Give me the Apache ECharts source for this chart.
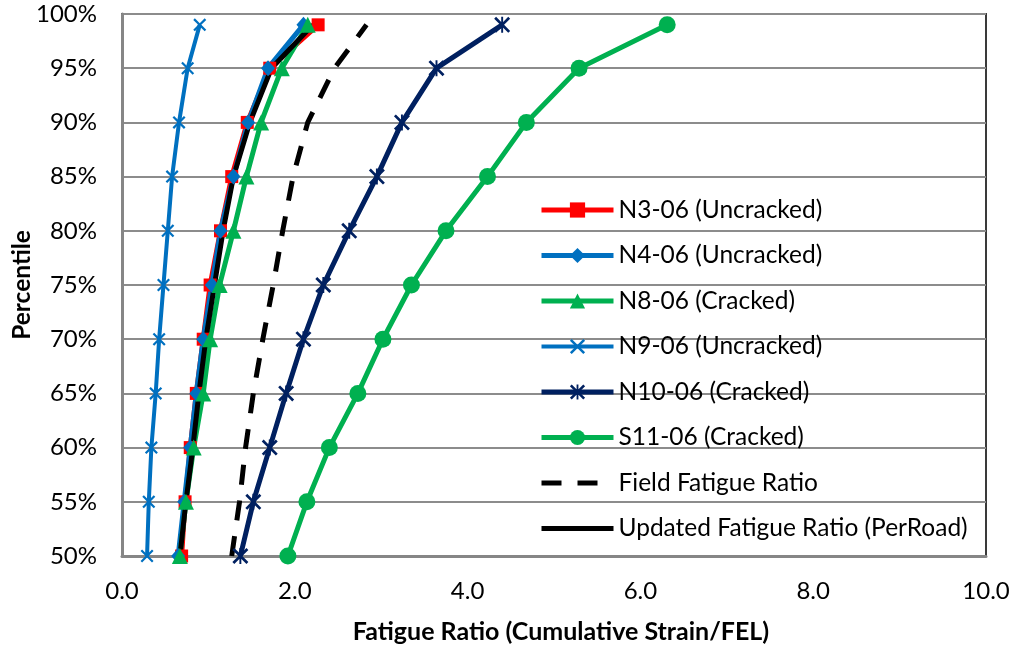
<!DOCTYPE html>
<html>
<head>
<meta charset="utf-8">
<style>
  html, body { margin: 0; padding: 0; background: #fff; }
  #chart { width: 1015px; height: 649px; }
</style>
<script src="https://cdn.jsdelivr.net/npm/echarts@6/dist/echarts.min.js"></script>
</head>
<body>
<div id="chart"></div>
<script>
// Percentile levels shared by every distribution curve
const percentiles = [50, 55, 60, 65, 70, 75, 80, 85, 90, 95, 99];

// Fatigue ratio at each percentile, one array per section
const n3_06  = [0.69, 0.73, 0.79, 0.86, 0.94, 1.02, 1.14, 1.27, 1.45, 1.71, 2.27];
const n4_06  = [0.65, 0.72, 0.79, 0.86, 0.94, 1.04, 1.14, 1.29, 1.46, 1.69, 2.10];
const n8_06  = [0.67, 0.74, 0.83, 0.94, 1.02, 1.13, 1.29, 1.44, 1.61, 1.85, 2.15];
const n9_06  = [0.29, 0.31, 0.34, 0.39, 0.43, 0.48, 0.53, 0.58, 0.66, 0.76, 0.90];
const n10_06 = [1.37, 1.52, 1.71, 1.90, 2.10, 2.33, 2.63, 2.95, 3.24, 3.64, 4.40];
const s11_06 = [1.92, 2.14, 2.40, 2.73, 3.02, 3.35, 3.75, 4.23, 4.68, 5.29, 6.31];
const fieldRatio   = [1.27, 1.36, 1.43, 1.52, 1.63, 1.75, 1.86, 1.98, 2.15, 2.46, 2.83];
const updatedRatio = [0.67, 0.74, 0.82, 0.89, 0.97, 1.07, 1.17, 1.29, 1.48, 1.73, 2.21];

const seriesNames = [
  'N3-06 (Uncracked)', 'N4-06 (Uncracked)', 'N8-06 (Cracked)', 'N9-06 (Uncracked)',
  'N10-06 (Cracked)', 'S11-06 (Cracked)', 'Field Fatigue Ratio', 'Updated Fatigue Ratio (PerRoad)'
];

const xTicks = { min: 0, max: 10, step: 2 };
const yTicks = { min: 50, max: 100, step: 5 };

const FONT = 'Lato, "Open Sans", sans-serif';

// thin X and asterisk markers as filled outlines
const X_PATH = 'path://M0,1.2L1.2,0L5,3.8L8.8,0L10,1.2L6.2,5L10,8.8L8.8,10L5,6.2L1.2,10L0,8.8L3.8,5Z';
const STAR_PATH = 'path://M0,1.2L1.2,0L5,3.8L8.8,0L10,1.2L6.2,5L10,8.8L8.8,10L5,6.2L1.2,10L0,8.8L3.8,5Z' +
                  'M4.4,0L5.6,0L5.6,10L4.4,10Z';

function pairs(xs) {
  return xs.map((x, i) => [x, percentiles[i]]);
}

function lineSeries(name, xs, color, width, symbol, size, dash) {
  return {
    name: name,
    type: 'line',
    data: pairs(xs),
    symbol: symbol,
    symbolSize: size,
    showSymbol: symbol !== 'none',
    lineStyle: { color: color, width: width, type: dash || 'solid' },
    itemStyle: { color: color },
    emphasis: { disabled: true }
  };
}

// legend entries; the two reference lines carry no marker
const legendData = seriesNames.map((name, i) => {
  const item = { name: name };
  if (i >= 6) item.itemStyle = { opacity: 0 };
  if (i === 3) item.lineStyle = { width: 4 };
  return item;
});

const chart = echarts.init(document.getElementById('chart'), null, { renderer: 'canvas' });

chart.setOption({
  animation: false,
  backgroundColor: '#fff',
  grid: {
    left: 122, right: 29, top: 14, bottom: 93,
    outerBoundsMode: 'none',
    containLabel: false,
    show: true, borderColor: '#3a3a3a', borderWidth: 2, backgroundColor: 'transparent'
  },
  xAxis: {
    type: 'value',
    min: xTicks.min, max: xTicks.max, interval: xTicks.step,
    name: 'Fatigue Ratio (Cumulative Strain/FEL)',
    nameLocation: 'middle',
    nameGap: 63,
    nameMoveOverlap: false,
    nameTextStyle: { fontFamily: FONT, fontSize: 25, fontWeight: 'bold', color: '#000', padding: [0, 0, 0, 14] },
    axisLine: { show: true, lineStyle: { color: '#868686', width: 3 } },
    axisTick: { show: false },
    splitLine: { show: false },
    axisLabel: {
      fontFamily: FONT, fontSize: 24, color: '#000', margin: 23,
      formatter: v => v.toFixed(1)
    }
  },
  yAxis: {
    type: 'value',
    min: yTicks.min, max: yTicks.max, interval: yTicks.step,
    name: 'Percentile',
    nameLocation: 'middle',
    nameGap: 87,
    nameMoveOverlap: false,
    nameTextStyle: { fontFamily: FONT, fontSize: 24.5, fontWeight: 'bold', color: '#000' },
    axisLine: { show: true, lineStyle: { color: '#868686', width: 3 } },
    axisTick: { show: false },
    splitLine: { show: true, lineStyle: { color: '#8c8c8c', width: 2 } },
    axisLabel: {
      fontFamily: FONT, fontSize: 24, color: '#000', margin: 25,
      formatter: '{value}%'
    }
  },
  legend: {
    orient: 'vertical',
    left: 534, top: 191,
    itemWidth: 72, itemHeight: 19,
    itemGap: 17.5,
    backgroundColor: 'transparent',
    lineStyle: { width: 5 },
    textStyle: { fontFamily: FONT, fontSize: 24.5, color: '#000', lineHeight: 28 },
    data: legendData
  },
  series: [
    lineSeries(seriesNames[0], n3_06,  '#ff0000', 5, 'rect', 13),
    lineSeries(seriesNames[1], n4_06,  '#0070c0', 5, 'diamond', [14, 16]),
    lineSeries(seriesNames[2], n8_06,  '#00b050', 5, 'triangle', 16),
    lineSeries(seriesNames[3], n9_06,  '#0070c0', 4, X_PATH, 13),
    lineSeries(seriesNames[4], n10_06, '#002060', 5, STAR_PATH, 16),
    lineSeries(seriesNames[5], s11_06, '#00b050', 5, 'circle', 17),
    lineSeries(seriesNames[6], fieldRatio,   '#000000', 5, 'none', 0, [20, 16]),
    lineSeries(seriesNames[7], updatedRatio, '#000000', 5, 'none', 0)
  ]
});
</script>
</body>
</html>
